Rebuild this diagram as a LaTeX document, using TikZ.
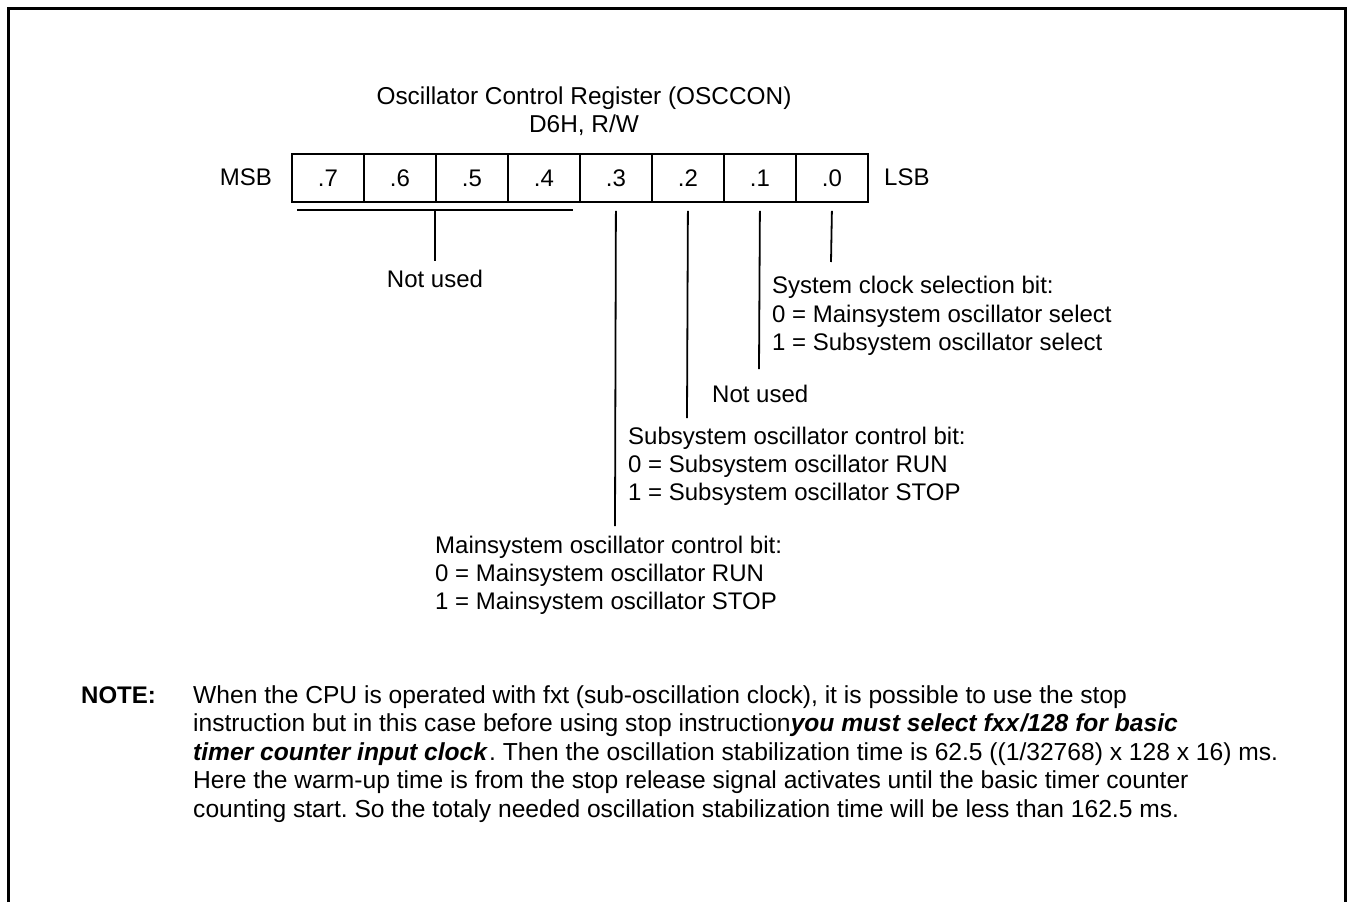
\documentclass[tikz,border=0pt]{standalone}
\usepackage{fontspec}
\setmainfont{Liberation Sans}
\usetikzlibrary{calc}
\frenchspacing
\begin{document}
\begin{tikzpicture}[x=1pt,y=-1pt,
  txt/.style={inner sep=0pt, font=\fontsize{24}{28}\selectfont},
  ntxt/.style={inner sep=0pt, anchor=base west, font=\fontsize{24.6}{28}\selectfont},
  cell/.style={draw, line width=1.8pt, minimum width=72pt, minimum height=48pt,
               inner sep=0pt, anchor=north west, font=\fontsize{24}{28}\selectfont},
  lead/.style={line width=1.8pt},
  frame/.style={line width=3pt}]
\useasboundingbox (0,0) rectangle (1348,902);
% outer frame (open at the bottom)
\draw[frame] (8,902) -- (8,8.5) -- (1345.5,8.5) -- (1345.5,902);

% title
\node[txt, anchor=base, font=\fontsize{24.4}{28}\selectfont] (title) at (584,104) {Oscillator Control Register (OSCCON)};
\node[txt, anchor=base, font=\fontsize{24.4}{28}\selectfont] (addr) at (584,132) {D6H, R/W};

% register cells
\foreach \b [count=\i from 0] in {7,6,5,4,3,2,1,0}
  \node[cell] (b\b) at (291+72*\i,153) {.\b};
\node[txt, anchor=base east] (msb) at (272,185) {MSB};
\node[txt, anchor=base west] (lsb) at (884,185) {LSB};

% bits 7-4 : not used
\coordinate (brL) at (297,210);
\coordinate (brR) at (573,210);
\coordinate (brM) at (435,210);
\draw[lead] (brL) -- (brR);
\node[txt, anchor=base] (nu1) at (435,287) {Not used};
\draw[lead] (brM) -- ($(nu1.north)+(0,-8)$);

% bit 0
\node[txt, anchor=base west] (sc1) at (772,293) {System clock selection bit:};
\node[txt, anchor=base west] (sc2) at (772,322) {0 = Mainsystem oscillator select};
\node[txt, anchor=base west] (sc3) at (772,350) {1 = Subsystem oscillator select};
\coordinate (e0) at (831,262);
\draw[lead] ($(b0.south)+(0,8)$) -- (e0);

% bit 1
\coordinate (e1) at (759,369);
\draw[lead] ($(b1.south)+(0,8)$) -- (e1);

% bit 2 : not used
\node[txt, anchor=base west] (nu2) at (712,402) {Not used};
\coordinate (e2) at (687,418);
\draw[lead] ($(b2.south)+(0,8)$) -- (e2);

% bit 3
\node[txt, anchor=base west] (ss1) at (628,444) {Subsystem oscillator control bit:};
\node[txt, anchor=base west] (ss2) at (628,472) {0 = Subsystem oscillator RUN};
\node[txt, anchor=base west] (ss3) at (628,500) {1 = Subsystem oscillator STOP};
\coordinate (e3) at (615,526);
\draw[lead] ($(b3.south)+(0,8)$) -- (e3);

% main oscillator text
\node[txt, anchor=base west] (ms1) at (435,553) {Mainsystem oscillator control bit:};
\node[txt, anchor=base west] (ms2) at (435,581) {0 = Mainsystem oscillator RUN};
\node[txt, anchor=base west] (ms3) at (435,609) {1 = Mainsystem oscillator STOP};

% note
\node[txt, anchor=base west, font=\fontsize{24}{28}\selectfont\bfseries] (note) at (81,703) {NOTE:};
\node[ntxt] (n1) at (193,703) {When the CPU is operated with fxt (sub-oscillation clock), it is possible to use the stop};
\node[ntxt] (n2) at (193,731.5) {instruction but in this case before using stop instruction\textbf{\textit{you must select fxx\kern1.5pt/128 for basic}}};
\node[ntxt] (n3) at (193,760) {\textbf{\textit{timer counter input clock}}\kern1pt. Then the oscillation stabilization time is 62.5 ((1/32768) x 128 x 16) ms.};
\node[ntxt] (n4) at (193,788.5) {Here the warm-up time is from the stop release signal activates until the basic timer counter};
\node[ntxt] (n5) at (193,817) {counting start. So the totaly needed oscillation stabilization time will be less than 162.5 ms.};
\end{tikzpicture}
\end{document}
